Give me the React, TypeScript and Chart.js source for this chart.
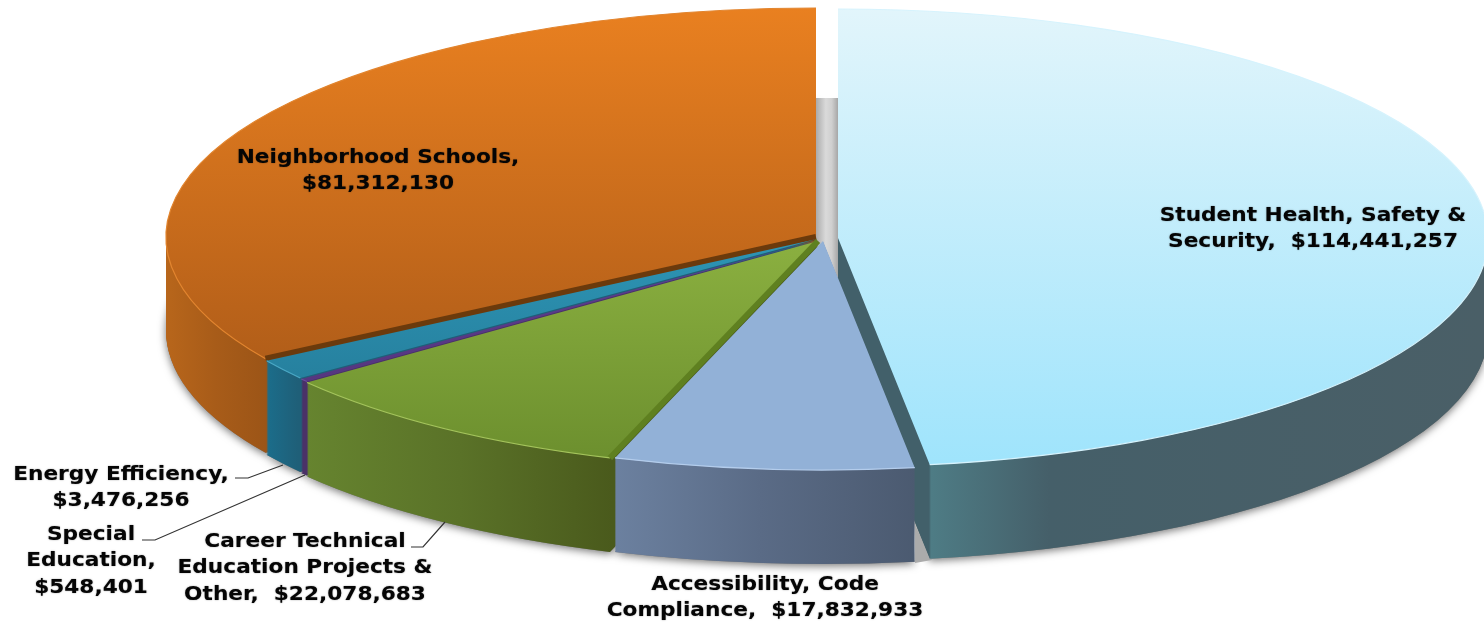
import React, { useEffect, useRef } from "react";
import { Chart, registerables } from "chart.js";

Chart.register(...registerables);

const categories = [
  "Student Health, Safety & Security",
  "Accessibility, Code Compliance",
  "Career Technical Education Projects & Other",
  "Special Education",
  "Energy Efficiency",
  "Neighborhood Schools",
];
const amounts = [114441257, 17832933, 22078683, 548401, 3476256, 81312130];
const baseColors = ["#BDEBFB", "#92B1D7", "#7EA339", "#5A3A8A", "#2A8CAB", "#D0701E"];

// Presentation tables (index matches categories)
const nudgeX = [19, 4, -1, -1, -2, -3];
const nudgeY = [0, 3, 3, 2, 1, -1];
const paintOrder = [0, 5, 4, 3, 2, 1];
const topGrad: [number, number, string, string][] = [
  [8, 465, "#E2F5FB", "#9FE4FC"],
  [240, 465, "#92B1D7", "#92B1D7"],
  [240, 460, "#8BB040", "#6C8F2E"],
  [240, 385, "#5E3D92", "#55367F"],
  [240, 380, "#2D95B5", "#26809E"],
  [8, 358, "#E98020", "#B25E19"],
];
const sideStops: [number, string][][] = [
  [[838, "#42606A"], [929, "#42606A"], [931, "#4E7C85"], [1050, "#455F69"], [1484, "#4A5F67"]],
  [[612, "#6C81A0"], [760, "#5A6B86"], [917, "#4B5A70"]],
  [[307, "#66842F"], [460, "#5A7228"], [612, "#4A5A1C"]],
  [[296, "#4A3168"], [306, "#4A3168"]],
  [[265, "#1B6E8C"], [298, "#1F5F78"]],
  [[165, "#B8661B"], [215, "#A85C19"], [265, "#9C5517"]],
];
const rimColors = ["#D6F3FD", "#B4CDEC", "#A4C45C", "#6B4A9C", "#4AA8C5", "#E2852F"];
const cutEdges: { index: number; color: string; width: number }[] = [
  { index: 5, color: "#6B3A0C", width: 6 },
  { index: 2, color: "#5F8020", width: 6 },
];
const labelLines: { lines: string[]; x: number; y: number }[] = [
  { lines: ["Student Health, Safety &", "Security,  $114,441,257"], x: 1313, y: 216 },
  { lines: ["Neighborhood Schools,", "$81,312,130"], x: 378, y: 158 },
  { lines: ["Energy Efficiency,", "$3,476,256"], x: 121, y: 475 },
  { lines: ["Special", "Education,", "$548,401"], x: 91, y: 535 },
  { lines: ["Career Technical", "Education Projects &", "Other,  $22,078,683"], x: 305, y: 542 },
  { lines: ["Accessibility, Code", "Compliance,  $17,832,933"], x: 765, y: 585 },
];
const leaders: number[][][] = [
  [[235, 478], [248, 478], [283, 465]],
  [[142, 540], [155, 540], [305, 475]],
  [[411, 547], [423, 547], [445, 522]],
];

const CX = 819;
const CY = 238;
const RX = 650;
const RY = 229;
const DEPTH = 94;
const LINE_H = 26.5;
const TEXT_STRETCH = 1.14;

const pie3d = {
  id: "pie3d",
  beforeDatasetsDraw(chart: any) {
    const ctx: CanvasRenderingContext2D = chart.ctx;
    const meta = chart.getDatasetMeta(0);
    const els: any[] = meta.data;
    const r = els[0].outerRadius;
    const ox = els[0].x;
    const oy = els[0].y;
    const sx = RX / r;
    const sy = RY / r;
    const lx = (x: number) => ox + (x - CX) / sx;
    const ly = (y: number) => oy + (y - CY) / sy;

    const place = (i: number, dy: number) => {
      ctx.translate(CX + nudgeX[i], CY + nudgeY[i] + dy);
      ctx.scale(sx, sy);
      ctx.translate(-ox, -oy);
    };
    const paint = (i: number, fill: any, dy: number) => {
      const el = els[i];
      const saved = el.options;
      el.options = Object.create(saved, {
        backgroundColor: { value: fill },
        borderWidth: { value: 0 },
      });
      ctx.save();
      place(i, dy);
      el.draw(ctx);
      ctx.restore();
      el.options = saved;
    };

    // soft ground shadow
    ctx.save();
    ctx.shadowColor = "rgba(0,0,0,0.55)";
    ctx.shadowBlur = 9;
    ctx.shadowOffsetY = 2;
    paintOrder.forEach((i) => paint(i, "#777777", DEPTH));
    ctx.restore();

    // grey back wall seen through the gap behind the exploded slice
    const wall = ctx.createLinearGradient(815, 0, 839, 0);
    wall.addColorStop(0, "#A6A6A6");
    wall.addColorStop(0.45, "#DADADA");
    wall.addColorStop(0.7, "#CFCFCF");
    wall.addColorStop(1, "#A0A0A0");
    ctx.fillStyle = wall;
    ctx.fillRect(815, 98, 24, 190);

    // grey wedge of shadow in the lower gap
    ctx.fillStyle = "#ABABAB";
    ctx.beginPath();
    ctx.moveTo(915, 525);
    ctx.lineTo(932, 560);
    ctx.lineTo(915, 563);
    ctx.closePath();
    ctx.fill();

    const rimEdge = (i: number) => {
      const el = els[i];
      ctx.save();
      ctx.beginPath();
      ctx.ellipse(CX + nudgeX[i], CY + nudgeY[i], RX, RY, 0, el.startAngle, el.endAngle);
      ctx.strokeStyle = rimColors[i];
      ctx.lineWidth = 1.2;
      ctx.stroke();
      ctx.restore();
    };

    paintOrder.forEach((i) => {
      const stops = sideStops[i];
      const x0 = stops[0][0];
      const x1 = stops[stops.length - 1][0];
      const sg = ctx.createLinearGradient(lx(x0 - nudgeX[i]), 0, lx(x1 - nudgeX[i]), 0);
      stops.forEach(([x, c]) => sg.addColorStop((x - x0) / (x1 - x0), c));
      for (let d = DEPTH; d >= 1; d--) paint(i, sg, d);

      const [y0, y1, t, u] = topGrad[i];
      const tg = ctx.createLinearGradient(0, ly(y0 - nudgeY[i]), 0, ly(y1 - nudgeY[i]));
      tg.addColorStop(0, t);
      tg.addColorStop(1, u);
      paint(i, tg, 0);
      rimEdge(i);

      cutEdges
        .filter((e) => e.index === i)
        .forEach((e) => {
          const a0 = els[i].startAngle;
          const px = CX + nudgeX[i];
          const py = CY + nudgeY[i];
          ctx.save();
          ctx.beginPath();
          ctx.moveTo(px, py);
          ctx.lineTo(px + Math.cos(a0) * RX, py + Math.sin(a0) * RY);
          ctx.strokeStyle = e.color;
          ctx.lineWidth = e.width;
          ctx.stroke();
          ctx.restore();
        });
    });
    return false;
  },
  afterDraw(chart: any) {
    const ctx: CanvasRenderingContext2D = chart.ctx;
    ctx.save();
    ctx.strokeStyle = "#333333";
    ctx.lineWidth = 1.2;
    leaders.forEach((pts) => {
      ctx.beginPath();
      pts.forEach(([x, y], k) => (k ? ctx.lineTo(x, y) : ctx.moveTo(x, y)));
      ctx.stroke();
    });
    ctx.fillStyle = "#050505";
    ctx.shadowColor = "rgba(0,0,0,0.45)";
    ctx.shadowBlur = 1.5;
    ctx.font = 'bold 19px "DejaVu Sans"';
    ctx.textAlign = "center";
    ctx.textBaseline = "middle";
    labelLines.forEach((l) => {
      l.lines.forEach((t, k) => {
        ctx.save();
        ctx.translate(l.x, l.y + k * LINE_H);
        ctx.scale(TEXT_STRETCH, 1);
        ctx.fillText(t, 0, 0);
        ctx.restore();
      });
    });
    ctx.restore();
  },
};

export default function App() {
  const ref = useRef<HTMLCanvasElement | null>(null);
  useEffect(() => {
    if (!ref.current) return;
    const chart = new Chart(ref.current, {
      type: "pie",
      data: {
        labels: categories,
        datasets: [{ data: amounts, backgroundColor: baseColors, borderWidth: 0 }],
      },
      options: {
        animation: false,
        responsive: false,
        devicePixelRatio: 1,
        layout: { padding: 0 },
        plugins: { legend: { display: false }, tooltip: { enabled: false } },
      },
      plugins: [pie3d],
    } as any);
    return () => chart.destroy();
  }, []);
  return (
    <canvas
      ref={ref}
      width={1484}
      height={623}
      style={{ position: "absolute", left: 0, top: 0, width: 1484, height: 623 }}
    />
  );
}
